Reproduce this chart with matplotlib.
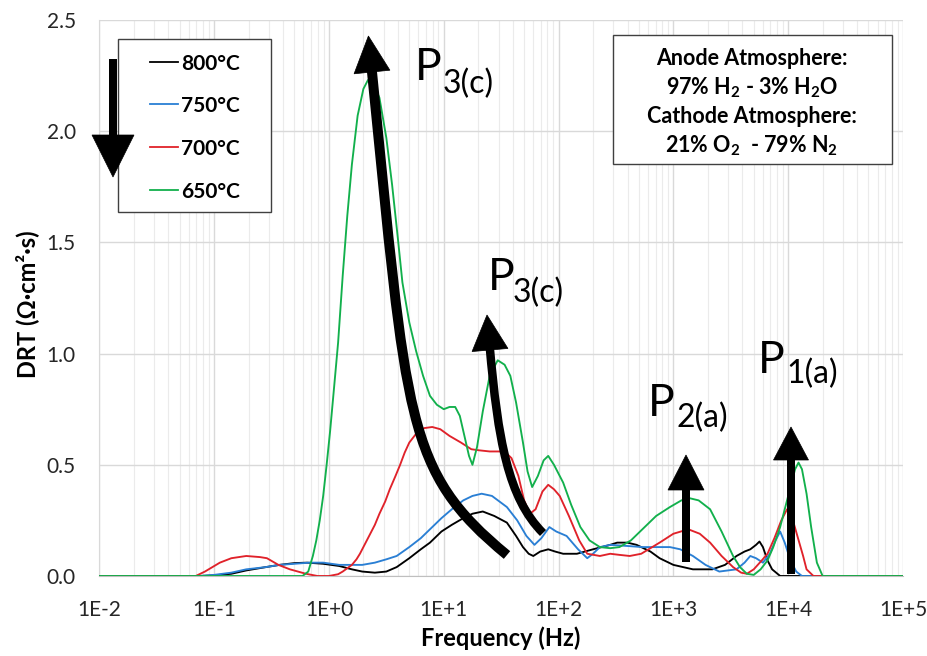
import numpy as np
import matplotlib
matplotlib.use('Agg')
import matplotlib.pyplot as plt
import matplotlib.transforms as mtransforms
from matplotlib.path import Path
from matplotlib.patches import PathPatch, Polygon, Rectangle
from matplotlib.lines import Line2D
from matplotlib.ticker import FixedLocator, FuncFormatter

# ---------------- data ----------------
# frequencies given as log10(f / Hz)
logf_800 = [-2.0, -1.13, -1.0, -0.85, -0.72, -0.55, -0.43, -0.30, -0.19, -0.05, 0.09, 0.20, 0.29,
            0.40, 0.50, 0.59, 0.70, 0.80, 0.88, 0.98, 1.07, 1.17, 1.25, 1.34, 1.44, 1.55, 1.63,
            1.69, 1.74, 1.78, 1.84, 1.91, 1.97, 2.04, 2.16, 2.30, 2.45, 2.51, 2.60, 2.68, 2.80,
            2.88, 3.00, 3.17, 3.34, 3.45, 3.55, 3.62, 3.67, 3.72, 3.75, 3.78, 3.82, 3.86, 3.93, 5.0]
drt_800 = [0.0, 0.0, 0.003, 0.01, 0.025, 0.04, 0.05, 0.058, 0.06, 0.055, 0.045, 0.03, 0.02,
           0.015, 0.02, 0.04, 0.08, 0.12, 0.15, 0.20, 0.23, 0.26, 0.28, 0.29, 0.27, 0.24, 0.18,
           0.13, 0.10, 0.09, 0.11, 0.12, 0.11, 0.10, 0.10, 0.12, 0.14, 0.15, 0.15, 0.14, 0.11,
           0.08, 0.05, 0.03, 0.03, 0.05, 0.09, 0.11, 0.12, 0.14, 0.155, 0.13, 0.07, 0.03, 0.0, 0.0]

logf_750 = [-2.0, -1.13, -1.0, -0.85, -0.72, -0.55, -0.43, -0.30, -0.17, -0.05, 0.09, 0.20, 0.29,
            0.40, 0.50, 0.59, 0.70, 0.80, 0.88, 0.98, 1.07, 1.17, 1.25, 1.33, 1.42, 1.55, 1.64,
            1.72, 1.79, 1.85, 1.92, 1.98, 2.07, 2.17, 2.25, 2.30, 2.36, 2.45, 2.60, 2.73, 2.85,
            2.97, 3.06, 3.17, 3.28, 3.40, 3.55, 3.62, 3.67, 3.72, 3.78, 3.84, 3.89, 3.93, 3.97,
            4.02, 4.07, 4.12, 5.0]
drt_750 = [0.0, 0.0, 0.005, 0.015, 0.03, 0.04, 0.05, 0.055, 0.06, 0.06, 0.05, 0.05, 0.05,
           0.06, 0.075, 0.09, 0.13, 0.17, 0.21, 0.26, 0.30, 0.34, 0.36, 0.37, 0.36, 0.31, 0.25,
           0.18, 0.14, 0.17, 0.22, 0.20, 0.18, 0.12, 0.08, 0.10, 0.13, 0.14, 0.135, 0.13, 0.13,
           0.13, 0.12, 0.09, 0.05, 0.02, 0.03, 0.06, 0.09, 0.08, 0.06, 0.10, 0.16, 0.20, 0.15,
           0.07, 0.02, 0.0, 0.0]

logf_700 = [-2.0, -1.16, -1.08, -0.95, -0.85, -0.72, -0.60, -0.54, -0.44, -0.34, -0.20, -0.10,
            0.0, 0.08, 0.12, 0.16, 0.20, 0.24, 0.27, 0.31, 0.35, 0.40, 0.44, 0.49, 0.53, 0.58,
            0.62, 0.66, 0.70, 0.76, 0.83, 0.90, 0.97, 1.05,
            1.15, 1.24, 1.31, 1.40, 1.49, 1.55, 1.59, 1.65, 1.70, 1.75, 1.80, 1.86, 1.91, 1.96,
            2.01, 2.09, 2.18, 2.25, 2.36, 2.45, 2.53, 2.62, 2.72, 2.88, 3.00, 3.13, 3.23, 3.32,
            3.42, 3.52, 3.59, 3.64, 3.70, 3.77, 3.82, 3.88, 3.94, 3.99, 4.03, 4.08, 4.13, 4.16,
            4.22, 5.0]
drt_700 = [0.0, 0.0, 0.02, 0.06, 0.08, 0.09, 0.085, 0.08, 0.05, 0.03, 0.01, 0.0,
           0.0, 0.008, 0.02, 0.035, 0.05, 0.075, 0.10, 0.14, 0.18, 0.23, 0.28, 0.335, 0.39, 0.45,
           0.50, 0.555, 0.60, 0.64, 0.665, 0.67, 0.66, 0.63,
           0.60, 0.57, 0.565, 0.56, 0.56, 0.55, 0.53, 0.45, 0.34, 0.28, 0.30, 0.38, 0.41, 0.39,
           0.36, 0.27, 0.16, 0.10, 0.09, 0.10, 0.095, 0.09, 0.10, 0.15, 0.19, 0.21, 0.19, 0.15,
           0.09, 0.04, 0.015, 0.01, 0.03, 0.07, 0.10, 0.17, 0.25, 0.30, 0.27, 0.18, 0.09, 0.03,
           0.0, 0.0]

logf_650 = [-2.0, -0.23, -0.18, -0.14, -0.11, -0.08, -0.05, -0.02, 0.01, 0.04, 0.08, 0.12, 0.16,
            0.20, 0.25, 0.30, 0.34, 0.39, 0.44, 0.50, 0.55, 0.60, 0.64, 0.70, 0.76, 0.82, 0.88,
            0.94, 1.00, 1.05, 1.10, 1.14, 1.18, 1.22, 1.25, 1.29, 1.34, 1.40, 1.47, 1.53, 1.58,
            1.63, 1.69, 1.73, 1.77, 1.82, 1.87, 1.91, 1.96, 2.04, 2.11, 2.19, 2.27, 2.36, 2.45,
            2.53, 2.63, 2.73, 2.85, 2.97, 3.07, 3.14, 3.22, 3.32, 3.42, 3.52, 3.58, 3.64, 3.70,
            3.76, 3.82, 3.87, 3.93, 3.98, 4.02, 4.06, 4.09, 4.12, 4.16, 4.20, 4.25, 4.30, 5.0]
drt_650 = [0.0, 0.0, 0.02, 0.09, 0.16, 0.25, 0.36, 0.50, 0.65, 0.82, 1.05, 1.35, 1.62,
           1.85, 2.07, 2.19, 2.23, 2.21, 2.15, 1.97, 1.76, 1.52, 1.32, 1.14, 1.01, 0.90, 0.81,
           0.77, 0.75, 0.76, 0.76, 0.72, 0.63, 0.54, 0.50, 0.58, 0.74, 0.90, 0.97, 0.95, 0.90,
           0.78, 0.60, 0.47, 0.40, 0.45, 0.52, 0.54, 0.50, 0.42, 0.32, 0.22, 0.16, 0.13, 0.125,
           0.13, 0.16, 0.21, 0.27, 0.31, 0.34, 0.35, 0.34, 0.30, 0.20, 0.09, 0.04, 0.01, 0.005,
           0.03, 0.07, 0.13, 0.22, 0.32, 0.40, 0.48, 0.51, 0.48, 0.37, 0.22, 0.06, 0.0, 0.0]

series_labels = ['800°C', '750°C', '700°C', '650°C']
series_colors = ['#000000', '#2a7fd4', '#e0222a', '#12b04c']
x_tick_exps = [-2, -1, 0, 1, 2, 3, 4, 5]
x_tick_labels = ['1E-2', '1E-1', '1E+0', '1E+1', '1E+2', '1E+3', '1E+4', '1E+5']
y_ticks = [0.0, 0.5, 1.0, 1.5, 2.0, 2.5]

# ---------------- figure ----------------
W, H = 927, 656
plt.rcParams['font.family'] = ['Lato', 'DejaVu Sans']
plt.rcParams['mathtext.fontset'] = 'custom'
plt.rcParams['mathtext.rm'] = 'Lato:bold'
plt.rcParams['mathtext.it'] = 'Lato:bold'
plt.rcParams['mathtext.bf'] = 'Lato:bold'

fig = plt.figure(figsize=(W / 100, H / 100), dpi=100)
fig.patch.set_facecolor('white')
ax = fig.add_axes([99.3 / W, (H - 576) / H, (903 - 99.3) / W, (576 - 20) / H])

all_logf = [logf_800, logf_750, logf_700, logf_650]
all_drt = [drt_800, drt_750, drt_700, drt_650]
for lf, d, c, lab in zip(all_logf, all_drt, series_colors, series_labels):
    ax.plot(np.power(10.0, lf), d, color=c, lw=1.35, label=lab, zorder=3,
            solid_joinstyle='round', antialiased=True)

ax.set_xscale('log')
ax.set_xlim(1e-2, 1e5)
ax.set_ylim(0, 2.5)
ax.xaxis.set_major_locator(FixedLocator([10.0 ** e for e in x_tick_exps]))
ax.set_xticklabels(x_tick_labels)
minor = [m * 10.0 ** e for e in x_tick_exps[:-1] for m in range(2, 10)]
ax.xaxis.set_minor_locator(FixedLocator(minor))
ax.xaxis.set_minor_formatter(FuncFormatter(lambda v, p: ''))
ax.set_yticks(y_ticks)
ax.yaxis.set_major_formatter(FuncFormatter(lambda v, p: f'{v:.1f}'))

ax.grid(which='major', axis='both', color='#d9d9d9', lw=1.0)
ax.grid(which='minor', axis='x', color='#ebebeb', lw=0.8)
ax.set_axisbelow(True)
for s in ['top', 'right']:
    ax.spines[s].set_visible(False)
ax.spines['left'].set_color('#d9d9d9')
ax.spines['bottom'].set_color('#bfbfbf')
ax.tick_params(axis='both', which='both', length=0)
ax.tick_params(axis='x', pad=17, labelsize=15, labelcolor='#262626')
ax.tick_params(axis='y', pad=17, labelsize=15, labelcolor='#262626')

ax.set_xlabel('Frequency (Hz)', fontsize=17, fontweight='bold', labelpad=5)
fig.text(27 / W, 1 - 304 / H, 'DRT (Ω·cm²·s)', rotation=90, ha='center', va='center',
         fontsize=17, fontweight='bold')

# ---------------- annotations in figure pixel coordinates (y down) ----------------
PIX = mtransforms.Affine2D().scale(1, -1).translate(0, H)


def arrow(verts, codes, tip, head_half, lw_px):
    base = np.array(verts[-1], float)
    tip = np.array(tip, float)
    d = tip - base
    d /= np.hypot(*d)
    perp = np.array([-d[1], d[0]])
    # extend shaft slightly into the head to avoid gaps
    v = [tuple(p) for p in verts[:-1]] + [tuple(base + d * 4)]
    fig.add_artist(PathPatch(Path(v, codes), transform=PIX, fill=False, lw=lw_px * 0.72,
                             edgecolor='black', capstyle='butt', zorder=5))
    fig.add_artist(Polygon([tip, base + perp * head_half, base - perp * head_half],
                           closed=True, transform=PIX, facecolor='black',
                           edgecolor='black', lw=0.5, zorder=5))


C4 = [Path.MOVETO, Path.CURVE4, Path.CURVE4, Path.CURVE4]
L2 = [Path.MOVETO, Path.LINETO]
arrow([(507, 555), (405, 471), (407, 422), (372, 72)], C4, (368.4, 36.0), 18, 10)
arrow([(543, 533), (508, 498), (498, 440), (490, 350)], C4, (487, 315), 18, 8.5)
arrow([(686, 562), (686, 490)], L2, (686, 455), 18, 8)
arrow([(791, 574), (791, 460)], L2, (791, 427), 17.5, 8)


def plabel(p_left, p_base, sub, sub_left, sub_base):
    fig.text(p_left / W, 1 - p_base / H, 'P', fontsize=32, ha='left', va='baseline')
    fig.text(sub_left / W, 1 - sub_base / H, sub, fontsize=23, ha='left', va='baseline')


plabel(415, 80, '3(c)', 443, 93)
plabel(488, 290, '3(c)', 513, 302)
plabel(648, 416, '2(a)', 677, 427)
plabel(758, 373, '1(a)', 786, 383)

# legend box
fig.add_artist(Rectangle((118, 39), 153, 173, transform=PIX, fill=True, facecolor='white',
                         edgecolor='#404040', lw=1.0, zorder=4))
row_y = [62, 104, 147, 190]
for yy, c, lab in zip(row_y, series_colors, series_labels):
    fig.add_artist(Line2D([150, 178], [yy, yy], transform=PIX, color=c, lw=1.3, zorder=6))
    fig.text(181 / W, 1 - yy / H, lab, fontsize=15, fontweight='bold', ha='left',
             va='center_baseline', zorder=6)
# temperature arrow (on top of the legend box edge)
arrow([(113, 59), (113, 135)], L2, (113, 177), 21, 8)

# atmosphere box
fig.add_artist(Rectangle((613, 35), 279, 129, transform=PIX, facecolor='white',
                         edgecolor='#404040', lw=1.0, zorder=4))
box_lines = ['Anode Atmosphere:', '97% H$_2$ - 3% H$_2$O', 'Cathode Atmosphere:',
             '21% O$_2$  - 79% N$_2$']
for yy, t in zip([65, 94, 123, 152], box_lines):
    fig.text(752 / W, 1 - yy / H, t, fontsize=15.5, fontweight='bold', ha='center',
             va='baseline', zorder=6)

fig.savefig('out.png', dpi=100)
